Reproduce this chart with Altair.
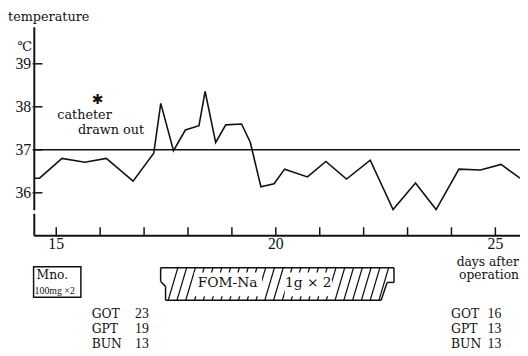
import altair as alt
import pandas as pd
import numpy as np

# ---------------- data ----------------
days = [14.51, 14.62, 15.13, 15.65, 16.14, 16.75, 17.22, 17.38, 17.67, 17.94,
        18.25, 18.39, 18.63, 18.86, 19.22, 19.42, 19.66, 19.96, 20.20, 20.72,
        21.14, 21.61, 22.15, 22.67, 23.18, 23.65, 24.17, 24.66, 25.13, 25.56]
temps = [36.34, 36.34, 36.80, 36.71, 36.80, 36.27, 36.92, 38.08, 36.98, 37.46,
         37.56, 38.36, 37.17, 37.58, 37.60, 37.17, 36.14, 36.21, 36.55, 36.37,
         36.73, 36.32, 36.76, 35.61, 36.23, 35.61, 36.55, 36.53, 36.66, 36.34]
ref_temp = 37.0
y_ticks = [36, 37, 38, 39]
x_ticks = list(range(15, 26))
x_labels = [15, 20, 25]

lab_names = ["GOT", "GPT", "BUN"]
lab_before = ["23", "19", "13"]
lab_after = ["16", "13", "13"]

catheter_day, catheter_temp = 15.94, 38.15
mno_days = [14.484, 15.561]
fom_days = [17.377, 22.691]

# ---------------- scales ----------------
XD = [13.9013, 25.5605]          # days across the full canvas
YT = [32.267, 40.2356]           # temperature scale
YP = [356, 8]                    # layout rows for annotations
xs = alt.Scale(domain=XD, nice=False, zero=False)
yt = alt.Scale(domain=YT, nice=False, zero=False)
yp = alt.Scale(domain=YP, nice=False, zero=False)
AX0 = 14.5                       # day where the axes start
XAXIS_T = 35.0                   # temperature level of the x axis line

SERIF = "DejaVu Serif"
NUM = "Liberation Serif"
BLACK = "#111111"


def X(f="x"):
    return alt.X(f"{f}:Q", scale=xs, axis=None)


def YTm(f="y"):
    return alt.Y(f"{f}:Q", scale=yt, axis=None)


def YPx(f="y"):
    return alt.Y(f"{f}:Q", scale=yp, axis=None)


def text_layer(df, align, size, font, scale="px", baseline="alphabetic"):
    y = YPx() if scale == "px" else YTm()
    return alt.Chart(df).mark_text(align=align, baseline=baseline, fontSize=size,
                                   font=font, color=BLACK).encode(x=X(), y=y, text="t:N")


# ---------------- temperature plot ----------------
df_t = pd.DataFrame({"x": days, "y": temps})
line = alt.Chart(df_t).mark_line(color=BLACK, strokeWidth=1.6).encode(x=X(), y=YTm())

ref = alt.Chart(pd.DataFrame({"x": [AX0], "x2": [XD[1]], "y": [ref_temp]})).mark_rule(
    color=BLACK, strokeWidth=1.5).encode(x=X(), x2="x2:Q", y=YTm())

yaxis = alt.Chart(pd.DataFrame({"x": [AX0, AX0], "y": [39.85, 35.512], "y2": [35.594, XAXIS_T]})).mark_rule(
    color=BLACK, strokeWidth=2).encode(x=X(), y=YTm(), y2="y2:Q")

xaxis = alt.Chart(pd.DataFrame({"x": [AX0], "x2": [XD[1]], "y": [XAXIS_T]})).mark_rule(
    color=BLACK, strokeWidth=2).encode(x=X(), x2="x2:Q", y=YTm())

yticks = alt.Chart(pd.DataFrame({"y": y_ticks})).mark_rule(color=BLACK, strokeWidth=1.5).encode(
    x=alt.value(25), x2=alt.value(35), y=YTm())

xticks = alt.Chart(pd.DataFrame({"x": x_ticks})).mark_rule(color=BLACK, strokeWidth=1.5).encode(
    x=X(), y=alt.value(220), y2=alt.value(228.6))

ylabels = alt.Chart(pd.DataFrame({"y": y_ticks, "t": [str(v) for v in y_ticks]})).mark_text(
    align="right", baseline="middle", fontSize=16, font=NUM, color=BLACK).encode(
    x=alt.value(23.5), y=YTm(), text="t:N")

xlabels = alt.Chart(pd.DataFrame({"x": x_labels, "t": [str(v) for v in x_labels]})).mark_text(
    align="center", baseline="alphabetic", fontSize=16, font=NUM, color=BLACK).encode(
    x=X(), y=alt.value(242), text="t:N")

title_txt = alt.Chart(pd.DataFrame({"t": ["temperature"]})).mark_text(
    align="left", baseline="alphabetic", fontSize=13, font=SERIF, color=BLACK).encode(
    x=alt.value(0), y=alt.value(10.5), text="t:N")

unit_txt = alt.Chart(pd.DataFrame({"t": ["℃"]})).mark_text(
    align="center", baseline="alphabetic", fontSize=13.5, font="DejaVu Serif, Noto Sans CJK JP",
    color=BLACK).encode(x=alt.value(17), y=alt.value(41), text="t:N")

star = text_layer(pd.DataFrame({"x": [catheter_day], "y": [catheter_temp], "t": ["✱"]}),
                  "center", 14, "DejaVu Sans", scale="temp", baseline="middle")

cath = text_layer(pd.DataFrame({"x": [15.022, 15.493], "y": [118, 133],
                                "t": ["catheter", "drawn out"]}), "left", 13, SERIF)

# ---------------- bottom annotations ----------------
days_after = text_layer(pd.DataFrame({"x": [25.538, 25.538], "y": [267.5, 281],
                                      "t": ["days after", "operation"]}), "right", 12.5, SERIF)

mno_box = alt.Chart(pd.DataFrame({"x": [mno_days[0]], "x2": [mno_days[1]], "y": [268], "y2": [299]})).mark_rect(
    fill="white", stroke=BLACK, strokeWidth=1.5).encode(x=X(), x2="x2:Q", y=YPx(), y2="y2:Q")
mno_t1 = text_layer(pd.DataFrame({"x": [14.552], "y": [281], "t": ["Mno."]}), "left", 12.5, SERIF)
mno_t2 = text_layer(pd.DataFrame({"x": [14.507], "y": [295.5], "t": ["100mg ×2"]}), "left", 10, NUM)

# hatched FOM-Na bar
hatch_b = np.arange(17.55, 22.36, 0.2)
hatch = alt.Chart(pd.DataFrame({"x": hatch_b, "x2": hatch_b + 0.22})).mark_rule(
    color=BLACK, strokeWidth=1.3).encode(x=X(), x2="x2:Q", y=alt.value(294), y2=alt.value(261))

f0, f1 = fom_days
outline = pd.DataFrame({
    "x":  [f0, 17.489, f0, f0, 17.489, f1, f1, 22.534],
    "x2": [f1, 22.399, f0, 17.489, 17.489, f1, 22.534, 22.399],
    "y":  [269, 302, 269, 283, 288, 269, 284, 284],
    "y2": [269, 302, 283, 288, 302, 284, 284, 302],
})
fom_outline = alt.Chart(outline).mark_rule(color=BLACK, strokeWidth=1.5).encode(
    x=X(), x2="x2:Q", y=YPx(), y2="y2:Q")

fom_white = alt.Chart(pd.DataFrame({"x": [18.139, 20.202], "x2": [19.686, 21.278],
                                    "y": [274, 274], "y2": [298, 298]})).mark_rect(
    fill="white").encode(x=X(), x2="x2:Q", y=YPx(), y2="y2:Q")
fom_text = text_layer(pd.DataFrame({"x": [18.901, 20.74], "y": [288.5, 288.5],
                                    "t": ["FOM-Na", "1g × 2"]}), "center", 14, SERIF)

rows = [320.5, 335.5, 351]
labs_l = text_layer(pd.DataFrame({"x": [15.807] * 3, "y": rows, "t": lab_names}), "left", 12.5, SERIF)
vals_l = text_layer(pd.DataFrame({"x": [16.794] * 3, "y": rows, "t": lab_before}), "left", 14, NUM)
labs_r = text_layer(pd.DataFrame({"x": [23.991] * 3, "y": rows, "t": lab_names}), "left", 12.5, SERIF)
vals_r = text_layer(pd.DataFrame({"x": [24.821] * 3, "y": rows, "t": lab_after}), "left", 14, NUM)

chart = alt.layer(
    ref, line, yaxis, xaxis, yticks, xticks, ylabels, xlabels, title_txt, unit_txt, star, cath,
    days_after, mno_box, mno_t1, mno_t2, hatch, fom_white, fom_outline, fom_text,
    labs_l, vals_l, labs_r, vals_r,
).resolve_scale(y="independent").properties(
    width=520, height=348, autosize=alt.AutoSizeParams(type="none"), padding=0,
    background="white",
).configure_view(stroke=None)

chart.save("out.html", embed_options={"renderer": "svg", "actions": False})
